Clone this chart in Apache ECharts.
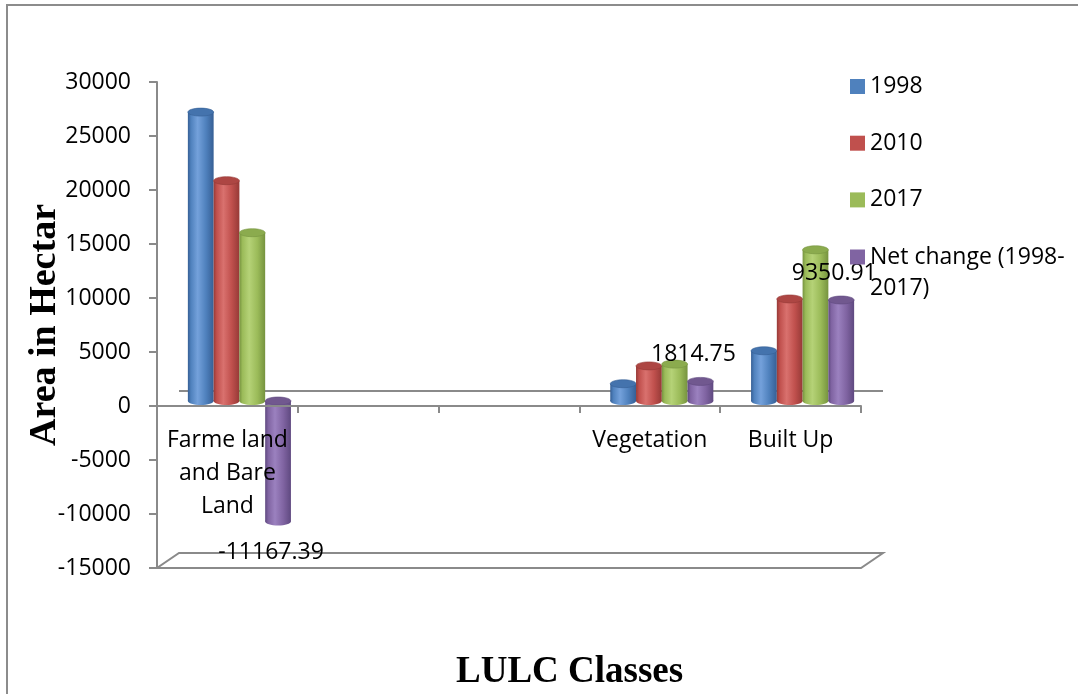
<!DOCTYPE html>
<html>
<head>
<meta charset="utf-8">
<script src="https://cdn.jsdelivr.net/npm/echarts@6/dist/echarts.min.js"></script>
<style>
  html, body { margin: 0; padding: 0; background: #ffffff; }
  #chart { width: 1078px; height: 694px; }
</style>
</head>
<body>
<div id="chart"></div>
<script>
// Land use / land cover classes (two slots carry no classes)
const categories = ['Farme land\nand Bare\nLand', '', '', 'Vegetation', 'Built Up'];
const seriesNames = ['1998', '2010', '2017', 'Net change (1998-2017)'];

// Area in hectares per class
const area1998 = [26750, null, null, 1600, 4650];
const area2010 = [20400, null, null, 3250, 9450];
const area2017 = [15582.61, null, null, 3414.75, 14000.91];
const netChange = [-11167.39, null, null, 1814.75, 9350.91];

const valueTicks = { min: -15000, max: 30000, step: 5000 };
const valueTitle = 'Area in Hectar';

// Cylinder shading per series
const tones = [
  { base: '#4f81bd', light: '#74a1db', dark: '#365f95', cap: '#4473ad' },
  { base: '#c0504d', light: '#d9716e', dark: '#963a37', cap: '#ad4643' },
  { base: '#9bbb59', light: '#b5d277', dark: '#76933f', cap: '#8bab4e' },
  { base: '#8064a2', light: '#9b81bf', dark: '#5f4980', cap: '#71588f' }
];

const FONT = '"Open Sans", "Liberation Sans", sans-serif';
const SERIF = '"Liberation Serif", "DejaVu Serif", serif';
const AXIS_GRAY = '#8a8a8a';
const BAR_RATIO = 0.183;   // width of one cylinder as a share of a category slot
const SHIFT_X = 12, SHIFT_Y = -5; // cylinders sit half way into the depth
const CAP = 4;             // half-height of the elliptical caps
const DEPTH_X = 22, DEPTH_Y = -15; // depth of the 3-D floor

function renderCylinder(params, api) {
  const s = params.seriesIndex;
  const idx = api.value(0);
  const val = api.value(1);
  const band = api.size([1, 0])[0];
  const w = band * BAR_RATIO;
  const base = api.coord([idx, 0]);
  const end = api.coord([idx, val]);
  const x = base[0] - 2 * w + s * w + SHIFT_X;
  const yBase = base[1] + SHIFT_Y;
  const yEnd = end[1] + SHIFT_Y;
  const top = Math.min(yBase, yEnd);
  const bottom = Math.max(yBase, yEnd);
  const c = tones[s];
  const grad = () => new echarts.graphic.LinearGradient(0, 0, 1, 0, [
    { offset: 0, color: c.dark },
    { offset: 0.12, color: c.base },
    { offset: 0.38, color: c.light },
    { offset: 0.7, color: c.base },
    { offset: 1, color: c.dark }
  ]);
  const children = [
    { type: 'ellipse', shape: { cx: x + w / 2, cy: bottom, rx: w / 2, ry: CAP }, style: { fill: grad() } },
    { type: 'rect', shape: { x: x, y: top, width: w, height: bottom - top }, style: { fill: grad() } },
    { type: 'ellipse', shape: { cx: x + w / 2, cy: top, rx: w / 2, ry: CAP },
      style: { fill: c.cap, stroke: c.dark, lineWidth: 0.6 } }
  ];
  if (s === 3) {
    children.push({
      type: 'text',
      z2: 10,
      style: {
        text: String(val),
        x: x + w / 2 - 7,
        y: val < 0 ? yEnd + 31 : yEnd - 27,
        align: 'center',
        verticalAlign: 'middle',
        font: '23px ' + FONT,
        fill: '#000000'
      }
    });
  }
  return { type: 'group', children: children };
}

function toPoints(values) {
  const out = [];
  values.forEach((v, i) => { if (v !== null) out.push([i, v]); });
  return out;
}

const seriesValues = [area1998, area2010, area2017, netChange];

const chart = echarts.init(document.getElementById('chart'), null, { renderer: 'canvas' });

const option = {
  animation: false,
  backgroundColor: '#ffffff',
  grid: { left: 157, right: 217, top: 82, bottom: 126, containLabel: false },
  title: {
    text: 'LULC Classes',
    left: 456,
    top: 652,
    padding: 0,
    textStyle: { fontFamily: SERIF, fontWeight: 'bold', fontSize: 37, lineHeight: 40, color: '#000' }
  },
  legend: [
    {
      data: seriesNames.slice(0, 3),
      orient: 'vertical',
      left: 850,
      top: 71,
      padding: 0,
      itemGap: 25.7,
      itemWidth: 15,
      itemHeight: 15,
      icon: 'rect',
      selectedMode: false,
      textStyle: { fontFamily: FONT, fontSize: 23, lineHeight: 31, color: '#000' }
    },
    {
      data: [seriesNames[3]],
      orient: 'vertical',
      left: 850,
      top: 210.5,
      padding: 0,
      itemWidth: 15,
      itemHeight: 15,
      icon: 'rect',
      selectedMode: false,
      formatter: () => '\nNet change (1998-\n2017)',
      textStyle: { fontFamily: FONT, fontSize: 23, lineHeight: 31, color: '#000' }
    }
  ],
  xAxis: {
    type: 'category',
    data: categories,
    z: 5,
    offset: 0,
    axisLine: { onZero: false, lineStyle: { color: AXIS_GRAY, width: 2 } },
    axisTick: { show: true, length: 7, lineStyle: { color: AXIS_GRAY, width: 2 } },
    axisLabel: {
      interval: 0,
      margin: 18,
      fontFamily: FONT,
      fontSize: 23,
      lineHeight: 33,
      color: '#000'
    },
    splitLine: { show: false }
  },
  yAxis: {
    type: 'value',
    min: valueTicks.min,
    max: valueTicks.max,
    interval: valueTicks.step,
    axisLine: { show: true, lineStyle: { color: AXIS_GRAY, width: 2 } },
    axisTick: { show: true, length: 8, lineStyle: { color: AXIS_GRAY, width: 2 } },
    axisLabel: { margin: 26, fontFamily: FONT, fontSize: 23, color: '#000', formatter: v => String(v) },
    splitLine: { show: false }
  },
  series: seriesNames.map((name, s) => ({
    name: name,
    type: 'custom',
    renderItem: renderCylinder,
    encode: { x: 0, y: 1 },
    itemStyle: { color: tones[s].base },
    data: toPoints(seriesValues[s])
  }))
};

chart.setOption(option);

// Pixel positions read back from the axes' own scales
const c0 = chart.convertToPixel({ xAxisIndex: 0 }, 0);
const c1 = chart.convertToPixel({ xAxisIndex: 0 }, 1);
const cLast = chart.convertToPixel({ xAxisIndex: 0 }, categories.length - 1);
const half = (c1 - c0) / 2;
const leftX = c0 - half;
const rightX = cLast + half;
const yZero = chart.convertToPixel({ yAxisIndex: 0 }, 0);
const yBottom = chart.convertToPixel({ yAxisIndex: 0 }, valueTicks.min);
const yTop = chart.convertToPixel({ yAxisIndex: 0 }, valueTicks.max);
const frameStyle = { stroke: AXIS_GRAY, lineWidth: 2, fill: null };

chart.setOption({
  // category axis runs along the zero level
  xAxis: { offset: -(yBottom - yZero) },
  graphic: [
    { type: 'rect', silent: true, z: -1,
      shape: { x: 7, y: 5, width: 1200, height: 900 },
      style: { stroke: '#8c8c8c', lineWidth: 2, fill: null } },
    // value axis title, reading upwards
    { type: 'text', silent: true,
      x: leftX - 112, y: (yTop + yBottom) / 2, rotation: Math.PI / 2,
      style: {
        text: valueTitle,
        font: 'bold 38px ' + SERIF,
        fill: '#000000',
        align: 'center',
        verticalAlign: 'middle'
      } },
    // back edge of the zero floor
    { type: 'polyline', silent: true,
      shape: { points: [[leftX + DEPTH_X, yZero + DEPTH_Y], [rightX + DEPTH_X, yZero + DEPTH_Y]] },
      style: frameStyle },
    // floor at the base of the value range
    { type: 'polygon', silent: true,
      shape: { points: [
        [leftX, yBottom], [rightX, yBottom],
        [rightX + DEPTH_X, yBottom + DEPTH_Y], [leftX + DEPTH_X, yBottom + DEPTH_Y]
      ] },
      style: frameStyle }
  ]
});
</script>
</body>
</html>
